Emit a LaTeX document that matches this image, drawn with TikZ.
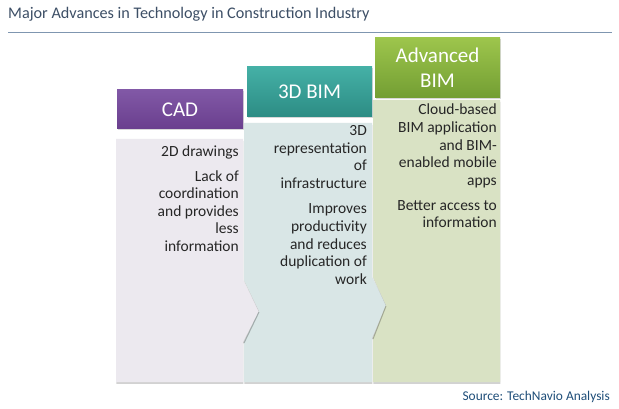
\documentclass[tikz,border=0pt]{standalone}
\usepackage{fontspec}
\setmainfont{Carlito}
\usetikzlibrary{shadows}
\definecolor{titlec}{HTML}{3D4F66}
\definecolor{rulec}{HTML}{7F96B0}
\definecolor{srcc}{HTML}{1F4E79}
\definecolor{txtc}{HTML}{262626}
\definecolor{cadtop}{HTML}{8158A6}
\definecolor{cadbot}{HTML}{6A3F8E}
\definecolor{bimtop}{HTML}{45B0A6}
\definecolor{bimbot}{HTML}{2C8C84}
\definecolor{advtop}{HTML}{9DC54C}
\definecolor{advbot}{HTML}{739E33}
\definecolor{cadbody}{HTML}{ECE9EF}
\definecolor{bimbody}{HTML}{D9E6E6}
\definecolor{advbody}{HTML}{D9E2C4}
\tikzset{
  hdr/.style={inner sep=0pt, text=white, align=center,
    font=\fontsize{21}{25}\selectfont,
    drop shadow={shadow xshift=0.6pt, shadow yshift=-1.5pt, opacity=0.3}},
  bodyshape/.style={draw=none, drop shadow={shadow xshift=0.4pt, shadow yshift=-1.8pt, opacity=0.35}},
  bodytxt/.style={anchor=base east, inner sep=0pt, align=right, text=txtc,
    font=\fontsize{15.5}{17.6}\selectfont},
  chevshade/.style={draw=black, draw opacity=0.25, line width=1pt},
}
\begin{document}
\begin{tikzpicture}[x=1pt,y=-1pt]
\useasboundingbox[fill=white] (0,0) rectangle (619,409);
% title
\node[anchor=west, inner sep=0pt, text=titlec, font=\fontsize{16.2}{19}\selectfont] (title) at (8,14) {Major Advances in Technology in Construction Industry};
\coordinate (rl) at (8,32);
\coordinate (rr) at (612,32);
\draw[rulec, line width=0.9pt] (rl) -- (rr);
% bodies
\path[bodyshape, fill=cadbody] (116,139) -- (243,139) -- (243,280) -- (259,311) -- (243,342) -- (243,382) -- (116,382) -- cycle;
\path[bodyshape, fill=bimbody] (244,123) -- (372,123) -- (372,277) -- (386,305) -- (372,338) -- (372,382) -- (244,382) -- (244,342) -- (259,311) -- (244,280) -- cycle;
\path[bodyshape, fill=advbody] (373,100) -- (500,100) -- (500,382) -- (373,382) -- (373,338) -- (386,305) -- (373,277) -- cycle;
% chevron shading
\coordinate (c1t) at (259,312);
\coordinate (c1b) at (244,343);
\coordinate (c2t) at (386,306);
\coordinate (c2b) at (373,339);
\draw[chevshade] (c1t) -- (c1b);
\draw[chevshade] (c2t) -- (c2b);
% headers
\node[hdr, minimum width=126pt, minimum height=39pt, top color=cadtop, bottom color=cadbot] (cad) at (180,109.5) {CAD};
\node[hdr, minimum width=125pt, minimum height=50pt, top color=bimtop, bottom color=bimbot] (bim) at (309.5,92) {3D BIM};
\node[hdr, minimum width=125pt, minimum height=60pt, top color=advtop, bottom color=advbot] (adv) at (437.5,68) {Advanced\\BIM};
% body texts (base anchor = baseline of last line)
\node[bodytxt] (cadtxt) at (239,251.5) {2D drawings\\[7.5pt]Lack of\\coordination\\and provides\\less\\information};
\node[bodytxt] (bimtxt) at (367,284.3) {3D\\representation\\of\\infrastructure\\[8pt]Improves\\productivity\\and reduces\\duplication of\\work};
\node[bodytxt] (advtxt) at (497,228) {Cloud-based\\BIM application\\and BIM-\\enabled mobile\\apps\\[7.5pt]Better access to\\information};
% source
\node[anchor=base east, inner sep=0pt, text=srcc, font=\fontsize{13.4}{15}\selectfont] (src) at (610,400) {Source: TechNavio Analysis};
\end{tikzpicture}
\end{document}
